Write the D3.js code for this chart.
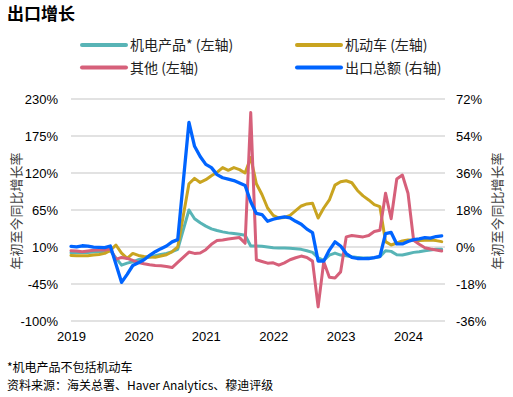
<!DOCTYPE html>
<html><head><meta charset="utf-8">
<script src="https://cdn.jsdelivr.net/npm/d3@7"></script>
<style>body{margin:0;background:#fff}svg{display:block}</style>
</head><body><div id="chart"></div>
<script>
// Categories: monthly, May 2019 – Nov 2024
const months = d3.timeMonth.range(new Date(2019,4,1), new Date(2024,11,1));
const xTickLabels = ["2019","2020","2021","2022","2023","2024"];
const leftTicks = [230,175,120,65,10,-45,-100];
const rightTicks = [72,54,36,18,0,-18,-36];

// 机电产品* (左轴)
const mechElec = [
  1.5,1.5,2,2,2.5,3,3.5,4.5,
  null,-17,-14,-12,-9,-6.5,-5,-3,-1,0.5,3,6.5,
  null,65,52,46,41,37,34.5,32.5,31,30,29,27.5,
  11.5,11.5,11,10,9,8.5,8.5,8,7.5,6.5,4.5,2,
  -6,-10,-2,1,-2,-3,-4.5,-5.5,-6.5,-6.5,-6,-4.5,
  4.5,3.5,-1.5,-2,0,2,3,4.5,5.5,6.5,6.5];
// 机动车 (左轴)
const vehicles = [
  -2.5,-3,-3,-3,-2,-1,0.5,5,
  13,1,-7,0.5,-2.5,-4,-5,-5.3,-3.5,-1.5,3,10,
  null,104,112,106,110,116,121,128,124,128,125,120,
  143,104,88,68,57,53,54,57,64,71,74,75,
  53,68,80,102,107,108.5,105.5,94,86,80,73,70,
  18,13,16,19,20.5,20,19.5,20,20.5,19.5,18];
// 其他 (左轴)
const others = [
  4.5,4,3,4,5,5.5,5.5,7.5,
  -8.5,-5.5,-7,-10,-13,-15,-16.5,-17.5,-18,-19,-20.5,-13,
  null,2.5,0.5,1,6,14,19.5,20.5,22,23,24,15.5,
  210,-9,-11.5,-14,-13.5,-17,-13.5,-9,-6,-3.5,-5.5,-11,
  -79,-12,-35,-36,-27,25,27,26,25,27,33,35,
  90,52,111,117,90,20,14,9,7,5.5,4];
// 出口总额 (右轴)
const totalExports = [
  0.3,0.1,0.6,0.4,-0.1,-0.2,-0.3,0.5,
  null,-17.2,-13.3,-9.0,-7.7,-6.2,-4.1,-2.3,-0.8,0.5,2.5,3.6,
  null,60.6,49.0,44.0,40.2,38.6,35.2,33.7,33.0,32.3,31.1,29.9,
  22,16.3,15.8,12.5,13.5,14.2,14.6,14.2,12.5,11.1,8.7,7.0,
  -6.8,-6.8,-1.5,2.5,0.5,-3.2,-5.0,-5.6,-5.7,-5.6,-5.2,-4.6,
  6.5,7.1,1.5,1.5,2.7,3.6,4.0,4.6,4.3,5.1,5.4];

const W = 513, H = 397;
const plotL = 71, plotR = 445, plotT = 99, plotB = 321;
const svg = d3.select("#chart").append("svg").attr("width", W).attr("height", H);
const latin = "'Liberation Sans', Arial, 'Noto Sans CJK SC', sans-serif";
const cjk = "'Noto Sans CJK SC', sans-serif";

const x = d3.scalePoint().domain(months.map((d,i)=>i)).range([plotL, 441.7]);
const yL = d3.scaleLinear().domain([-100,230]).range([plotB, plotT]);
const yR = d3.scaleLinear().domain([-36,72]).range([plotB, plotT]);

// title
svg.append("text").attr("x",7).attr("y",20).attr("font-family",cjk).attr("font-weight","bold")
  .attr("font-size",17).attr("fill","#000").text("出口增长");

// gridlines
svg.append("g").selectAll("line").data(leftTicks).join("line")
  .attr("x1",plotL).attr("x2",plotR).attr("y1",d=>yL(d)).attr("y2",d=>yL(d))
  .attr("stroke","#d9d9d9").attr("stroke-width",1.5);

// left axis
const gL = svg.append("g").attr("transform",`translate(${plotL},0)`)
  .call(d3.axisLeft(yL).tickValues(leftTicks).tickSize(0).tickPadding(13).tickFormat(d=>d+"%"));
gL.select(".domain").remove();
gL.selectAll("text").attr("font-family",latin).attr("font-size",13).attr("fill","#000");

// right axis
const gR = svg.append("g").attr("transform",`translate(${plotR},0)`)
  .call(d3.axisRight(yR).tickValues(rightTicks).tickSize(0).tickPadding(11).tickFormat(d=>d+"%"));
gR.select(".domain").remove();
gR.selectAll("text").attr("font-family",latin).attr("font-size",13).attr("fill","#000");

// x axis labels (every 12th category)
const xTickIdx = xTickLabels.map((d,i)=>i*12);
const gX = svg.append("g").attr("transform",`translate(0,${plotB})`)
  .call(d3.axisBottom(x).tickValues(xTickIdx).tickSize(0).tickPadding(11)
    .tickFormat((d,i)=>xTickLabels[i]));
gX.select(".domain").remove();
gX.selectAll("text").attr("font-family",latin).attr("font-size",13).attr("fill","#000");

// axis titles
svg.append("text").attr("transform","translate(21,211) rotate(-90)").attr("text-anchor","middle")
  .attr("font-family",cjk).attr("font-size",13).attr("fill","#404040").text("年初至今同比增长率");
svg.append("text").attr("transform","translate(502,211) rotate(-90)").attr("text-anchor","middle")
  .attr("font-family",cjk).attr("font-size",13).attr("fill","#404040").text("年初至今同比增长率");

// series
const series = [
  {name:"机电产品* (左轴)", data:mechElec, color:"#58b4b6", scale:yL},
  {name:"机动车 (左轴)", data:vehicles, color:"#c9a420", scale:yL},
  {name:"其他 (左轴)", data:others, color:"#d6607a", scale:yL},
  {name:"出口总额 (右轴)", data:totalExports, color:"#0064ff", scale:yR}
];
series.forEach(s=>{
  const pts = s.data.map((v,i)=>[i,v]).filter(p=>p[1]!==null);
  const line = d3.line().x(p=>x(p[0])).y(p=>s.scale(p[1]));
  svg.append("path").datum(pts).attr("d",line).attr("fill","none")
    .attr("stroke",s.color).attr("stroke-width",s.scale===yR?3.3:3).attr("stroke-linejoin","round").attr("stroke-linecap","round");
});

// legend
const legendPos = [[82,45],[297,45],[82,67.5],[297,67.5]];
series.forEach((s,i)=>{
  const [lx,ly] = legendPos[i];
  svg.append("line").attr("x1",lx).attr("x2",lx+44).attr("y1",ly).attr("y2",ly)
    .attr("stroke",s.color).attr("stroke-width",4).attr("stroke-linecap","round");
  svg.append("text").attr("x",lx+48).attr("y",ly).attr("dy","0.36em")
    .attr("font-family",cjk).attr("font-size",14).attr("fill","#222").text(s.name);
});

// footnotes
svg.append("text").attr("x",7).attr("y",372).attr("font-family",cjk).attr("font-size",12)
  .attr("fill","#000").text("*机电产品不包括机动车");
svg.append("text").attr("x",7).attr("y",390).attr("font-family",cjk).attr("font-size",12)
  .attr("fill","#000").text("资料来源：海关总署、Haver Analytics、穆迪评级");
</script></body></html>
